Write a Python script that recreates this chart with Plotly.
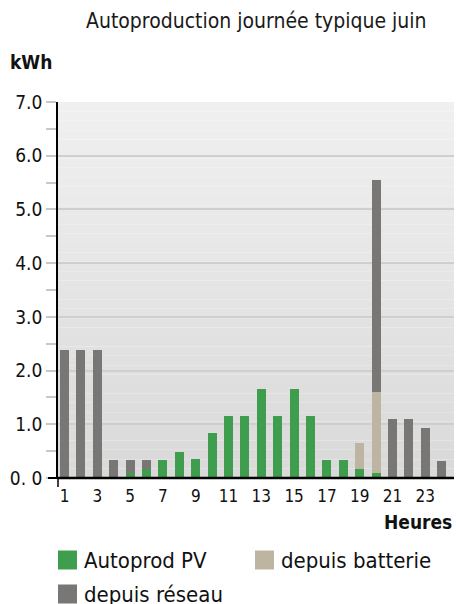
import plotly.graph_objects as go

# Hourly energy for a typical June day (kWh), stacked by source
hours = list(range(1, 25))
autoprod_pv = [0, 0, 0, 0, 0.10, 0.16, 0.33, 0.48, 0.35, 0.83, 1.15, 1.15,
               1.65, 1.15, 1.65, 1.15, 0.33, 0.33, 0.16, 0.10, 0, 0, 0, 0]
depuis_batterie = [0, 0, 0, 0, 0, 0, 0, 0, 0, 0, 0, 0,
                   0, 0, 0, 0, 0, 0, 0.50, 1.51, 0, 0, 0, 0]
depuis_reseau = [2.38, 2.38, 2.38, 0.33, 0.23, 0.17, 0, 0, 0, 0, 0, 0,
                 0, 0, 0, 0, 0, 0, 0, 3.93, 1.09, 1.09, 0.94, 0.32]

series_names = ["Autoprod PV", "depuis batterie", "depuis réseau"]
series_colors = ["#3f9e4d", "#bdb5a1", "#787775"]

y_tickvals = [0, 1, 2, 3, 4, 5, 6, 7]
y_ticktext = ["0. 0", "1.0", "2.0", "3.0", "4.0", "5.0", "6.0", "7.0"]
y_half_ticks = [0.5, 1.5, 2.5, 3.5, 4.5, 5.5, 6.5]
x_tickvals = [1, 3, 5, 7, 9, 11, 13, 15, 17, 19, 21, 23]

FONT = "DejaVu Sans Condensed, Roboto, sans-serif"
W, H = 456, 604
ML, MR, MT, MB = 58, 2, 102, 126

fig = go.Figure()
for name, vals, col in zip(series_names,
                           [autoprod_pv, depuis_batterie, depuis_reseau],
                           series_colors):
    fig.add_trace(go.Bar(x=hours, y=vals, name=name, marker_color=col,
                         marker_line_width=0, width=0.55, showlegend=False))

shapes = []
# vertical grey gradient behind the plot area
n_bands = 40
top, bottom = (0xf0, 0xf0, 0xf0), (0xd9, 0xd9, 0xd9)
for i in range(n_bands):
    t = (i + 0.5) / n_bands
    c = tuple(round(bottom[k] + (top[k] - bottom[k]) * t) for k in range(3))
    shapes.append(dict(type="rect", xref="paper", yref="paper",
                       x0=0, x1=1, y0=i / n_bands, y1=(i + 1) / n_bands,
                       fillcolor="rgb(%d,%d,%d)" % c, line_width=0,
                       layer="below"))
# axis line extensions past the origin
shapes.append(dict(type="line", xref="paper", yref="paper",
                   xsizemode="pixel", xanchor=0, x0=-10, x1=0, y0=0, y1=0,
                   line=dict(color="black", width=2)))
shapes.append(dict(type="line", xref="paper", yref="paper",
                   ysizemode="pixel", yanchor=0, y0=-9, y1=0, x0=0, x1=0,
                   line=dict(color="black", width=1.5)))

annotations = [
    dict(text="Autoproduction journée typique juin", xref="paper", yref="paper",
         x=0.5, y=1, yshift=81, xanchor="center", yanchor="middle",
         showarrow=False, font=dict(family=FONT, size=21, color="#1a1a1a")),
    dict(text="<b>kWh</b>", xref="paper", yref="paper", x=0, xshift=-50,
         y=1, yshift=40, xanchor="left", yanchor="middle", showarrow=False,
         font=dict(family=FONT, size=19, color="#111")),
    dict(text="<b>Heures</b>", xref="paper", yref="paper", x=1, xshift=0,
         y=0, yshift=-44, xanchor="right", yanchor="middle", showarrow=False,
         font=dict(family=FONT, size=19, color="#111")),
]

# hand-placed legend: coloured squares with labels
legend_pos = [(58, 560), (255, 560), (58, 594)]
for (px, py), name, col in zip(legend_pos, series_names, series_colors):
    shapes.append(dict(type="rect", xref="paper", yref="paper",
                       xsizemode="pixel", ysizemode="pixel",
                       xanchor=(px - ML) / (W - ML - MR),
                       yanchor=(H - MB - py) / (H - MT - MB),
                       x0=0, x1=19, y0=-9.5, y1=9.5,
                       fillcolor=col, line_width=0))
    annotations.append(dict(text=name, xref="paper", yref="paper",
                            x=(px - ML) / (W - ML - MR), xshift=24,
                            y=(H - MB - py) / (H - MT - MB),
                            xanchor="left", yanchor="middle", showarrow=False,
                            font=dict(family=FONT, size=22, color="#111")))

fig.update_layout(
    width=W, height=H,
    margin=dict(l=ML, r=MR, t=MT, b=MB, pad=0),
    barmode="stack",
    paper_bgcolor="white", plot_bgcolor="rgba(0,0,0,0)",
    shapes=shapes, annotations=annotations,
    xaxis=dict(range=[0.6, 24.75], tickvals=x_tickvals, ticks="",
               showgrid=False, zeroline=False, showline=False,
               ticklabelstandoff=6,
               tickfont=dict(family=FONT, size=17, color="#111")),
    yaxis=dict(range=[0, 7], tickvals=y_tickvals, ticktext=y_ticktext,
               ticks="outside", ticklen=10, tickcolor="#c8c8c8",
               tickwidth=1.5,
               minor=dict(dtick=0.5, ticks="outside", ticklen=10,
                          tickcolor="#c8c8c8", tickwidth=1.5, showgrid=False),
               showgrid=True, gridcolor="#cfcfcf", gridwidth=1.5,
               zeroline=False, showline=True, linecolor="black", linewidth=1.5,
               tickfont=dict(family=FONT, size=19, color="#111")),
    # half-unit ticks that also reach a little into the plot area
    yaxis2=dict(range=[0, 7], overlaying="y", side="left", anchor="x",
                tickvals=y_half_ticks, ticks="inside", ticklen=7,
                tickcolor="#c8c8c8", tickwidth=1.5, showticklabels=False,
                showgrid=False, zeroline=False, showline=False),
)
# bottom axis line drawn on top of bars
fig.add_shape(type="line", xref="paper", yref="paper", x0=0, x1=1, y0=0, y1=0,
              line=dict(color="black", width=2.5))

fig.write_html("out.html")
